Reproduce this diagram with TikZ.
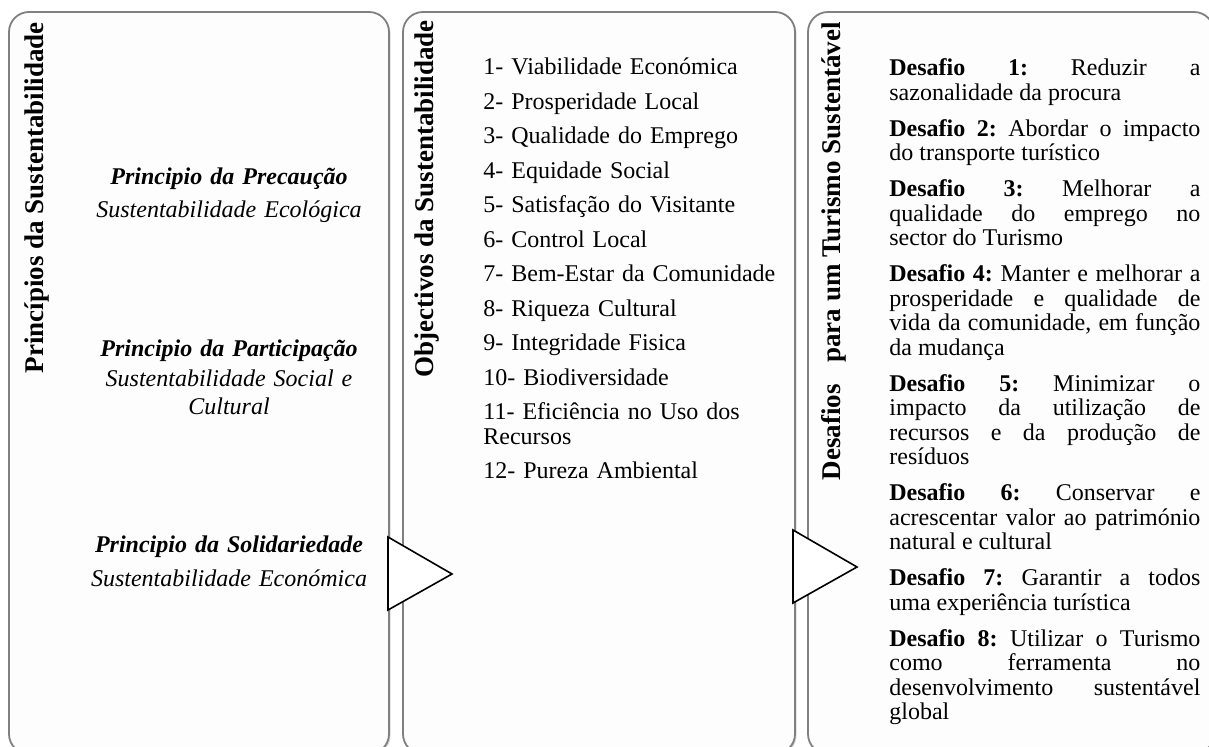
\documentclass[tikz,border=0pt]{standalone}
\usepackage{fontspec}
\setmainfont{Liberation Serif}
\usetikzlibrary{shadows}
\definecolor{panelgray}{RGB}{128,128,128}
\definecolor{panelfill}{RGB}{253,253,253}
\tikzset{
  panel/.style={draw=panelgray, line width=0.9pt, fill=panelfill, rounded corners=10pt,
    drop shadow={shadow xshift=0.8pt, shadow yshift=-0.8pt, opacity=0.3}},
  paneltitle/.style={rotate=90, anchor=base east, inner sep=0pt,
    font=\fontsize{13.5}{16}\selectfont\bfseries},
  chevron/.style={draw=black, line width=0.8pt, fill=white, line join=miter},
  bodytext/.style={inner sep=0pt, font=\fontsize{12}{12.25}\selectfont},
  principle/.style={bodytext, text width=150pt, align=center, anchor=base,
    font=\fontsize{12}{14}\selectfont},
}

\begin{document}
\frenchspacing
\begin{tikzpicture}[x=0.5pt, y=-0.5pt]
\useasboundingbox (0,0) rectangle (1209,747);
\draw[panel] (9,12) rectangle (389,754);
\draw[panel] (403,12) rectangle (795,754);
\draw[panel] (808,12) rectangle (1214,754);

\node[paneltitle] (principios) at (43,22) {Princípios da Sustentabilidade};
\node[paneltitle] (objectivos) at (433,20) {Objectivos da Sustentabilidade};
\node[paneltitle] (desafios) at (840,22) {Desafios\hspace{0.8em}para um Turismo Sustentável};

\node[principle] (precaucao) at (229,185) {\textbf{\textit{Principio da Precaução}}\\[2.5pt]
  \textit{Sustentabilidade Ecológica}};
\node[principle] (participacao) at (229,357) {\textbf{\textit{Principio da Participação}}\\[1pt]
  \textit{Sustentabilidade Social e}\\ \textit{Cultural}};
\node[principle] (solidariedade) at (229,553) {\textbf{\textit{Principio da Solidariedade}}\\[3pt]
  \textit{Sustentabilidade Económica}};

\node[bodytext, text width=165pt, align=left, anchor=base west] (lista) at (483,75) {%
  1- Viabilidade Económica\\[5pt]
  2- Prosperidade Local\\[5pt]
  3- Qualidade do Emprego\\[5pt]
  4- Equidade Social\\[5pt]
  5- Satisfação do Visitante\\[5pt]
  6- Control Local\\[5pt]
  7- Bem-Estar da Comunidade\\[5pt]
  8- Riqueza Cultural\\[5pt]
  9- Integridade Fisica\\[5pt]
  10- Biodiversidade\\[5pt]
  11- Eficiência no Uso dos\\ Recursos\\[5pt]
  12- Pureza Ambiental};

\node[bodytext, text width=155.5pt, align=justify, anchor=base west] (lista desafios) at (889,76) {%
  \setlength{\parskip}{5.75pt}\hyphenpenalty=10000 \tolerance=10000
  \textbf{Desafio 1:} Reduzir a\linebreak sazonalidade da procura\par
  \textbf{Desafio 2:} Abordar o impacto\linebreak do transporte turístico\par
  \textbf{Desafio 3:} Melhorar a\linebreak qualidade do emprego no\linebreak sector do Turismo\par
  \textbf{Desafio 4:} Manter e melhorar a\linebreak prosperidade e qualidade de\linebreak
  vida da comunidade, em função\linebreak da mudança\par
  \textbf{Desafio 5:} Minimizar o\linebreak impacto da utilização de\linebreak
  recursos e da produção de\linebreak resíduos\par
  \textbf{Desafio 6:} Conservar e\linebreak acrescentar valor ao património\linebreak natural e cultural\par
  \textbf{Desafio 7:} Garantir a todos\linebreak uma experiência turística\par
  \textbf{Desafio 8:} Utilizar o Turismo\linebreak como ferramenta no\linebreak
  desenvolvimento sustentável\linebreak global\par};

\draw[chevron] (388,537) -- (452,574) -- (388,610) -- cycle;
\draw[chevron] (793,530) -- (857,567) -- (793,603) -- cycle;
\end{tikzpicture}
\end{document}
